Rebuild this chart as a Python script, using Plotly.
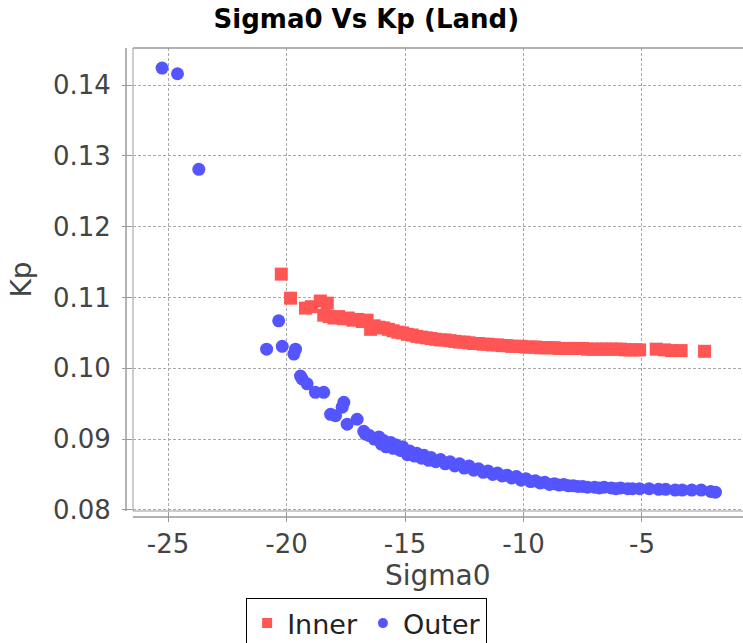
import plotly.graph_objects as go

# ---- data ----
inner_x = [-20.22, -19.83, -19.20, -18.95, -18.57, -18.28, -18.43, -18.20, -18.00, -17.80,
           -17.60, -17.40, -17.20, -17.00, -16.80, -16.60, -16.45, -16.30, -16.10, -15.90,
           -15.70, -15.50, -15.30, -15.10, -14.90, -14.70, -14.50, -14.30, -14.10, -13.90,
           -13.70, -13.50, -13.30, -13.10, -12.90, -12.70, -12.50, -12.30, -12.10, -11.90,
           -11.70, -11.50, -11.30, -11.10, -10.90, -10.70, -10.50, -10.30, -10.10, -9.90,
           -9.70, -9.50, -9.30, -9.10, -8.90, -8.70, -8.50, -8.30, -8.10, -7.90,
           -7.70, -7.50, -7.30, -7.10, -6.90, -6.70, -6.50, -6.30, -6.10, -5.90,
           -5.70, -5.50, -5.30, -5.10, -4.40, -4.05, -3.75, -3.35, -2.36]
inner_y = [0.1133, 0.1099, 0.1085, 0.1087, 0.1095, 0.1092, 0.1075, 0.1073, 0.1071, 0.1073,
           0.1070, 0.1071, 0.1068, 0.1069, 0.1066, 0.1068, 0.1055, 0.1060, 0.1058, 0.1057,
           0.1055, 0.1053, 0.1051, 0.1050, 0.1048, 0.1047, 0.1045, 0.1044, 0.1043, 0.1042,
           0.1041, 0.1040, 0.1040, 0.1039, 0.1038, 0.1037, 0.1037, 0.1036, 0.1035, 0.1035,
           0.1034, 0.1034, 0.1033, 0.1033, 0.1032, 0.1032, 0.1031, 0.1031, 0.1031, 0.1030,
           0.1030, 0.1030, 0.1029, 0.1029, 0.1029, 0.1029, 0.1028, 0.1028, 0.1028, 0.1028,
           0.1028, 0.1028, 0.1027, 0.1027, 0.1027, 0.1027, 0.1027, 0.1027, 0.1027, 0.1027,
           0.1026, 0.1026, 0.1026, 0.1026, 0.1027, 0.1026, 0.1025, 0.1025, 0.1024]

outer_x = [-25.25, -24.60, -23.70, -20.84, -20.33, -20.18, -19.62, -19.69, -19.41, -19.34,
           -19.13, -18.78, -18.43, -18.14, -17.93, -17.65, -17.58, -17.44, -17.02, -16.74,
           -16.67, -16.50, -16.30, -16.10, -16.00, -15.90, -15.80, -15.60, -15.50, -15.40,
           -15.20, -15.10, -14.90, -14.80, -14.60, -14.50, -14.30, -14.20, -14.00, -13.90,
           -13.70, -13.50, -13.30, -13.10, -12.90, -12.70, -12.50, -12.30, -12.10, -11.90,
           -11.70, -11.50, -11.30, -11.10, -10.90, -10.70, -10.50, -10.30, -10.10, -9.90,
           -9.70, -9.50, -9.30, -9.10, -8.90, -8.70, -8.50, -8.30, -8.10, -7.90,
           -7.70, -7.50, -7.30, -7.00, -6.80, -6.60, -6.30, -6.10, -5.90, -5.60,
           -5.40, -5.10, -4.70, -4.30, -4.00, -3.60, -3.30, -2.90, -2.50, -2.10, -1.90]
outer_y = [0.1424, 0.1416, 0.1281, 0.1027, 0.1067, 0.1031, 0.1027, 0.1020, 0.0989, 0.0985,
           0.0978, 0.0966, 0.0966, 0.0935, 0.0933, 0.0945, 0.0952, 0.0921, 0.0928, 0.0911,
           0.0907, 0.0905, 0.0900, 0.0903, 0.0893, 0.0898, 0.0889, 0.0895, 0.0887, 0.0892,
           0.0884, 0.0889, 0.0878, 0.0883, 0.0876, 0.0880, 0.0873, 0.0877, 0.0870, 0.0874,
           0.0868, 0.0871, 0.0865, 0.0868, 0.0862, 0.0865, 0.0859, 0.0862, 0.0856, 0.0858,
           0.0853, 0.0855, 0.0850, 0.0852, 0.0848, 0.0849, 0.0845, 0.0847, 0.0842, 0.0844,
           0.0840, 0.0841, 0.0838, 0.0839, 0.0836, 0.0837, 0.0835, 0.0836, 0.0834, 0.0834,
           0.0833, 0.0833, 0.0832, 0.0832, 0.0831, 0.0832, 0.0831, 0.0830, 0.0831, 0.0830,
           0.0830, 0.0830, 0.0830, 0.0829, 0.0829, 0.0828, 0.0828, 0.0828, 0.0828, 0.0826, 0.0825]

series_names = ["Inner", "Outer"]
x_ticks = [-25, -20, -15, -10, -5]
y_ticks = [0.08, 0.09, 0.10, 0.11, 0.12, 0.13, 0.14]

RED = "#FF5555"
BLUE = "#5555FF"
FONT = "DejaVu Sans"
GRID = "#a8a8a8"
AXIS = "#999999"

fig = go.Figure()
fig.add_trace(go.Scatter(x=inner_x, y=inner_y, mode="markers", name=series_names[0],
                         marker=dict(symbol="square", size=13, color=RED), showlegend=False))
fig.add_trace(go.Scatter(x=outer_x, y=outer_y, mode="markers", name=series_names[1],
                         marker=dict(symbol="circle", size=13, color=BLUE), showlegend=False))
# legend-only entries (smaller symbols like the reference legend)
fig.add_trace(go.Scatter(x=[None], y=[None], mode="markers", name=series_names[0],
                         marker=dict(symbol="square", size=10, color=RED)))
fig.add_trace(go.Scatter(x=[None], y=[None], mode="markers", name=series_names[1],
                         marker=dict(symbol="circle", size=10, color=BLUE)))

axis_common = dict(
    showgrid=True, gridcolor=GRID, griddash="3px,2px", gridwidth=1,
    zeroline=False, showline=False,
    ticks="outside", ticklen=10, tickcolor=AXIS, tickwidth=1,
    tickfont=dict(family=FONT, size=26, color="#444444"),
)

fig.update_xaxes(range=[-26.477, -0.738], tickvals=x_ticks,
                 ticktext=[str(v) for v in x_ticks], **axis_common)
fig.update_yaxes(range=[0.07984, 0.14524], tickvals=y_ticks,
                 ticktext=[f"{v:.2f}" for v in y_ticks], ticklabelstandoff=6, **axis_common)

line = dict(color=AXIS, width=1.5)
shapes = [
    # plot outline (top, left, bottom)
    dict(type="line", xref="paper", yref="paper", x0=0, x1=1, y0=1, y1=1, line=dict(color=AXIS, width=1.5)),
    dict(type="line", xref="paper", yref="paper", x0=0, x1=0, y0=0, y1=1, line=dict(color=AXIS, width=1)),
    dict(type="line", xref="paper", yref="paper", x0=0, x1=1, y0=0, y1=0, line=dict(color=AXIS, width=1)),
    # offset axis lines
    dict(type="line", xref="paper", yref="paper", x0=-0.0115, x1=-0.0115, y0=0, y1=1, line=line),
    dict(type="line", xref="paper", yref="paper", x0=0, x1=1, y0=-0.013, y1=-0.013, line=line),
]

annotations = [
    dict(text="Sigma0", xref="paper", yref="paper", x=0.5, y=-0.14, xanchor="center",
         yanchor="middle", showarrow=False, font=dict(family=FONT, size=28, color="#444444")),
    dict(text="Kp", xref="paper", yref="paper", x=-0.1836, y=0.5, xanchor="center",
         yanchor="middle", textangle=-90, showarrow=False,
         font=dict(family=FONT, size=28, color="#444444")),
]

fig.update_layout(
    width=743, height=643,
    margin=dict(l=133, r=0, t=48, b=132, autoexpand=False),
    paper_bgcolor="white", plot_bgcolor="white",
    title=dict(text="<b>Sigma0 Vs Kp (Land)</b>", x=0.493, xref="container", xanchor="center",
               y=1 - 19 / 643, yref="container", yanchor="middle",
               font=dict(family=FONT, size=26, color="#000000")),
    legend=dict(orientation="h", x=0.383, xanchor="center", y=-0.188, yanchor="top",
                bordercolor="#000000", borderwidth=1, bgcolor="white",
                font=dict(family=FONT, size=27, color="#222222"),
                itemwidth=30, tracegroupgap=0),
    shapes=shapes,
    annotations=annotations,
    showlegend=True,
)

fig.write_html("out.html", config={"displayModeBar": False},
               post_script="document.body.style.margin='0';")
